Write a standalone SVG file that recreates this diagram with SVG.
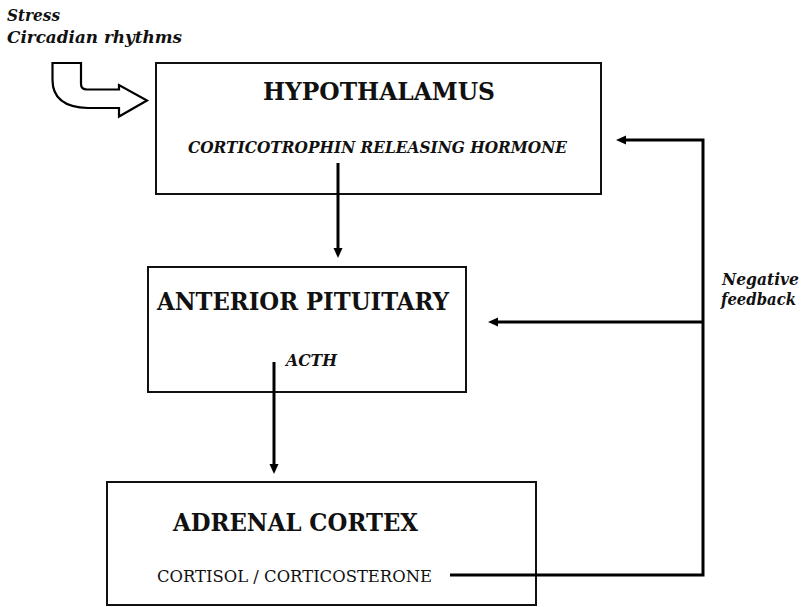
<svg xmlns="http://www.w3.org/2000/svg" width="808" height="607" viewBox="0 0 808 607">
  <style>
    text { font-family: "DejaVu Serif", "Liberation Serif", serif; fill: #111; }
    .box { fill: #fff; stroke: #111; stroke-width: 2; }
    .title { font-weight: bold; font-size: 24px; }
    .sub { font-weight: bold; font-style: italic; font-size: 17px; }
    .plain { font-size: 16.5px; }
    .note { font-weight: bold; font-style: italic; font-size: 17px; }
    .wire { fill: none; stroke: #000; stroke-width: 3; }
  </style>
  <defs>
    <marker id="head" markerUnits="userSpaceOnUse" markerWidth="12" markerHeight="12" refX="4" refY="5" orient="auto">
      <path d="M0,0.5 L10,5 L0,9.5 z" fill="#000"/>
    </marker>
  </defs>
  <rect width="808" height="607" fill="#fff"/>

  <!-- input label and hollow arrow -->
  <g id="inputs">
    <text class="note" x="7" y="21" textLength="53" lengthAdjust="spacingAndGlyphs">Stress</text>
    <text class="note" x="7" y="43" textLength="175" lengthAdjust="spacingAndGlyphs">Circadian rhythms</text>
    <path d="M52.5,63 H81 V84 Q81,89.5 87,89.5 H119 V85 L147,100.5 L119,116.5 V108 H88 Q52.5,107 52.5,80 Z" fill="#fff" stroke="#000" stroke-width="2.2" stroke-linejoin="miter"/>
  </g>

  <g id="hypothalamus">
    <rect class="box" x="156" y="63" width="445" height="131"/>
    <text class="title" x="379" y="100" text-anchor="middle" textLength="232" lengthAdjust="spacingAndGlyphs">HYPOTHALAMUS</text>
    <text class="sub" x="377.5" y="153" text-anchor="middle" textLength="379" lengthAdjust="spacingAndGlyphs">CORTICOTROPHIN RELEASING HORMONE</text>
  </g>

  <g id="anterior-pituitary">
    <rect class="box" x="148" y="267" width="318" height="125"/>
    <text class="title" x="303" y="310" text-anchor="middle" textLength="292" lengthAdjust="spacingAndGlyphs">ANTERIOR PITUITARY</text>
    <text class="sub" x="286" y="366" textLength="51" lengthAdjust="spacingAndGlyphs">ACTH</text>
  </g>

  <g id="adrenal-cortex">
    <rect class="box" x="107" y="482" width="429" height="123"/>
    <text class="title" x="295.5" y="531" text-anchor="middle" textLength="245" lengthAdjust="spacingAndGlyphs">ADRENAL CORTEX</text>
    <text class="plain" x="157" y="582" textLength="275" lengthAdjust="spacingAndGlyphs">CORTISOL / CORTICOSTERONE</text>
  </g>

  <g id="feedback-label">
    <text class="note" x="722" y="285" textLength="77" lengthAdjust="spacingAndGlyphs">Negative</text>
    <text class="note" x="721" y="305" textLength="75" lengthAdjust="spacingAndGlyphs">feedback</text>
  </g>

  <g id="connectors">
    <path class="wire" d="M338,163 V252" marker-end="url(#head)"/>
    <path class="wire" d="M274,362 V468" marker-end="url(#head)"/>
    <path class="wire" d="M450,575 H703 V140 H622" marker-end="url(#head)"/>
    <path class="wire" d="M703,322 H494" marker-end="url(#head)"/>
  </g>
</svg>
